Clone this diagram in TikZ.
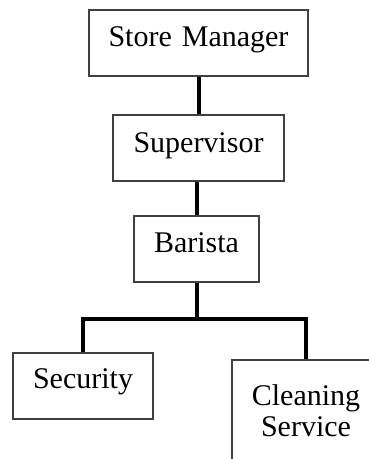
\documentclass[tikz,border=0pt]{standalone}
\usepackage{fontspec}
\setmainfont{Liberation Serif}
\tikzset{
  rolebox/.style={draw=black!75, line width=1.5pt, inner sep=0pt, align=center,
    font=\fontsize{30}{31}\selectfont},
  link/.style={line width=4pt}
}
\begin{document}
\begin{tikzpicture}[x=1pt, y=-1pt]
        \useasboundingbox (0,0) rectangle (369,459);
        \clip (0,0) rectangle (369,459);

        \node[rolebox, text width=219pt, text height=36pt, text depth=30pt] (mgr) at (198.5,43) {Store Manager};
        \node[rolebox, text width=171pt, text height=37pt, text depth=29pt] (sup) at (198.5,148) {Supervisor};
        \node[rolebox, text width=125pt, text height=36pt, text depth=30pt] (bar) at (196.5,249) {Barista};
        \node[rolebox, text width=140pt, text height=35pt, text depth=31pt] (sec) at (83,386) {Security};
        \node[rolebox, text width=148pt, text height=45pt, text depth=65pt] (cln) at (306,415) {Cleaning\\Service};

        \draw[link] (sup.north) -- (sup.north |- mgr.south);
        \draw[link] (bar.north) -- (bar.north |- sup.south);
        \draw[link] (bar.south) -- ++(0,36) coordinate (split);
        \draw[link] (sec.north) |- (split) -| (cln.north);
    \end{tikzpicture}
\end{document}
